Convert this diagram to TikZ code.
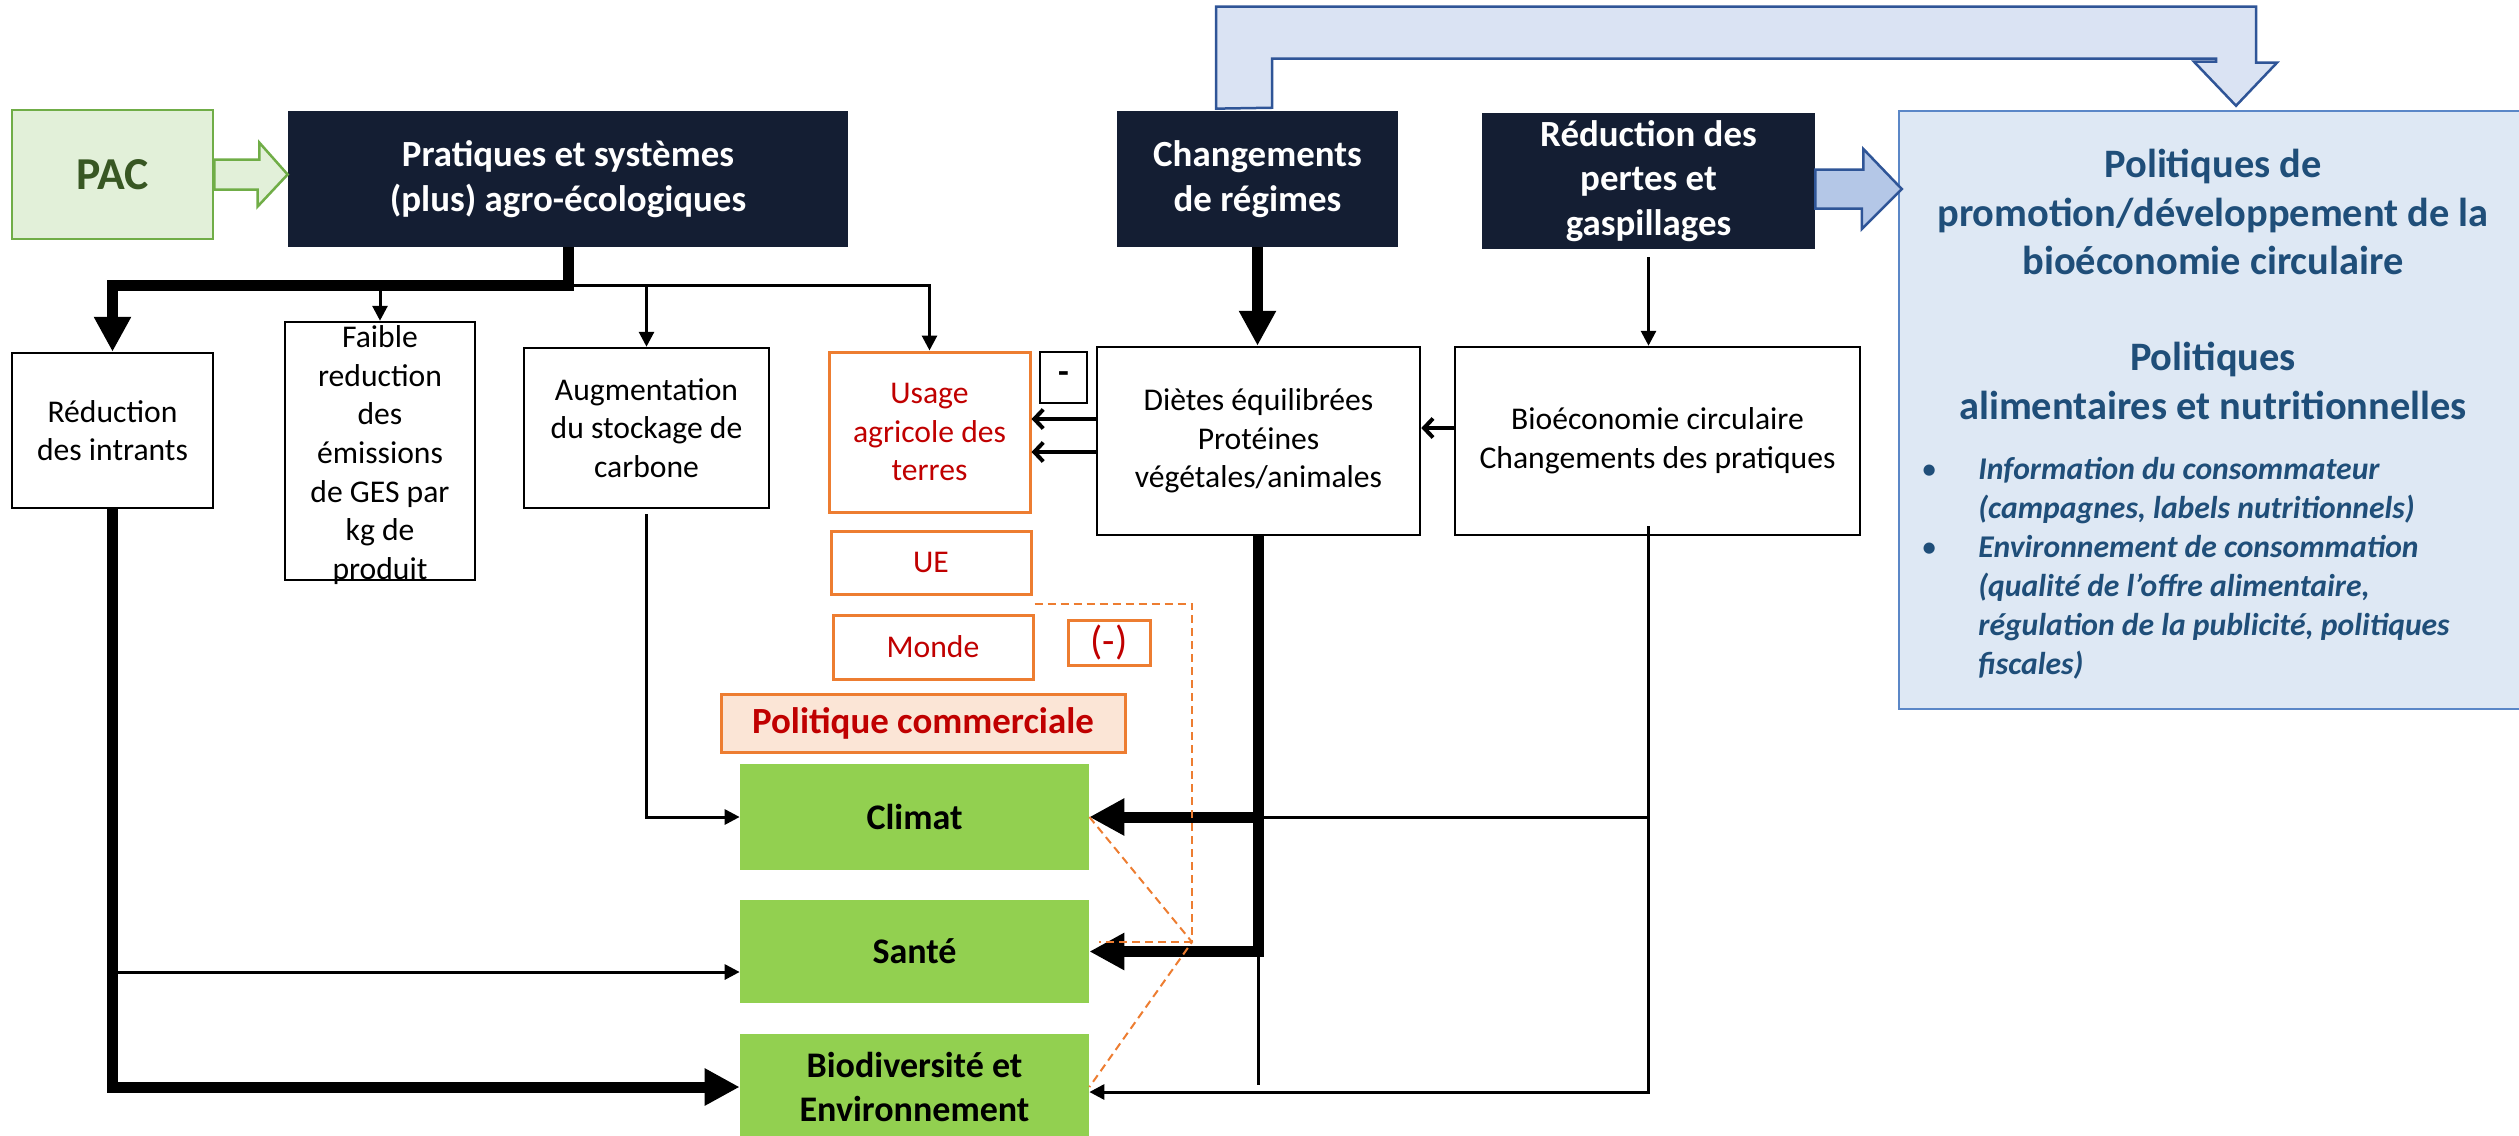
\documentclass[tikz,border=0pt]{standalone}
\usepackage{fontspec}
\setmainfont{Carlito}
\usepackage{tikz}
\usetikzlibrary{arrows.meta,calc}

\definecolor{navy}{HTML}{141E33}
\definecolor{pacfill}{HTML}{E2F0D9}
\definecolor{pacborder}{HTML}{70AD47}
\definecolor{pactext}{HTML}{385723}
\definecolor{polfill}{HTML}{DEE8F4}
\definecolor{polborder}{HTML}{5B87C7}
\definecolor{poltext}{HTML}{1F4E79}
\definecolor{arrowborder}{HTML}{2F5597}
\definecolor{arrowfill}{HTML}{B4C7E7}
\definecolor{bandfill}{HTML}{DAE3F3}
\definecolor{accorange}{HTML}{ED7D31}
\definecolor{darkred}{HTML}{C00000}
\definecolor{peach}{HTML}{FBE5D6}
\definecolor{leaf}{HTML}{92D050}

\begin{document}
\begin{tikzpicture}[x=0.2mm,y=-0.2mm,
        navybox/.style={fill=navy,text=white,inner sep=0pt,align=center,font=\bfseries\fontsize{21}{25.5}\selectfont},
        plainbox/.style={draw=black,line width=0.5mm,inner sep=0pt,align=center,font=\fontsize{18}{22}\selectfont},
        landbox/.style={draw=accorange,line width=0.6mm,inner sep=0pt,align=center,text=darkred,font=\fontsize{18}{22}\selectfont},
        outcome/.style={fill=leaf,minimum width=69.8mm,inner sep=0pt,align=center,font=\bfseries\fontsize{20.5}{25.5}\selectfont},
        poltitle/.style={text=poltext,inner sep=0pt,align=center,font=\bfseries\fontsize{23}{27.5}\selectfont},
        fat/.style={line width=2.2mm},
        fatarrow/.style={fat,-{Triangle[length=7mm,width=7mm]}},
        slim/.style={line width=0.6mm},
        slimarrow/.style={slim,-{Triangle[length=3mm,width=3mm]}},
        barb/.style={line width=0.8mm,-{Straight Barb[length=1.8mm,width=3.8mm]}},
        tradedash/.style={draw=accorange,line width=0.4mm,dash pattern=on 1.6mm off 1mm}
    ]
    \useasboundingbox (0,0) rectangle (2519,1136);

    \node[draw=pacborder,line width=0.5mm,fill=pacfill,minimum width=40.2mm,minimum height=25.8mm,text=pactext,font=\bfseries\fontsize{26}{30}\selectfont] (pac) at (112.5,174.5) {PAC};
    \node[navybox,minimum width=112mm,minimum height=27.2mm] (pratiques) at (568,179) {Pratiques et systèmes\\(plus) agro-écologiques};
    \node[navybox,minimum width=56.2mm,minimum height=27.2mm] (changements) at (1257.5,179) {Changements\\de régimes};
    \node[navybox,minimum width=66.6mm,minimum height=27.2mm] (pertes) at (1648.5,181) {Réduction des\\pertes et\\gaspillages};

    \node[draw=polborder,line width=0.5mm,fill=polfill,minimum width=126.2mm,minimum height=119.6mm] (politiques) at (2214.5,410) {};
    \node[poltitle] (promo) at (2213,212) {Politiques de\\promotion/développement de la\\bioéconomie circulaire};
    \node[poltitle] (alim) at (2213,381) {Politiques\\alimentaires et nutritionnelles};
    \node[text=poltext,inner sep=0pt,align=left,anchor=west,font=\bfseries\itshape\fontsize{18}{22.2}\selectfont] (mesures) at (1978,568)
        {\llap{\makebox[11.4mm][l]{\upshape\mdseries •}}Information du consommateur\\
         (campagnes, labels nutritionnels)\\
         \llap{\makebox[11.4mm][l]{\upshape\mdseries •}}Environnement de consommation\\
         (qualité de l’offre alimentaire,\\
         régulation de la publicité, politiques\\
         fiscales)};

    \node[plainbox,minimum width=40.2mm,minimum height=31mm] (intrants) at (112.5,430.5) {Réduction\\des intrants};
    \node[plainbox,minimum width=38mm,minimum height=51.6mm] (faible) at (380,451) {};
    \node[inner sep=0pt,align=center,font=\fontsize{18}{22}\selectfont] (faibletxt) at (380,455) {Faible\\reduction\\des\\émissions\\de GES par\\kg de\\produit};
    \node[plainbox,minimum width=49mm,minimum height=32mm] (stockage) at (646.5,428) {Augmentation\\du stockage de\\carbone};
    \node[landbox,minimum width=40.2mm,minimum height=32mm] (usage) at (929.5,432) {Usage\\agricole des\\terres};
    \node[plainbox,minimum width=9.4mm,minimum height=10.2mm,font=\bfseries\fontsize{20}{24}\selectfont] (moins) at (1063.5,377.5) {-};
    \node[plainbox,minimum width=64.6mm,minimum height=37.6mm] (dietes) at (1258.5,441) {Diètes équilibrées\\Protéines\\végétales/animales};
    \node[plainbox,minimum width=81mm,minimum height=37.6mm] (bioeco) at (1657.5,441) {Bioéconomie circulaire\\Changements des pratiques};

    \node[landbox,minimum width=40mm,minimum height=12.6mm] (ue) at (931,562.5) {UE};
    \node[landbox,minimum width=40mm,minimum height=12.8mm] (monde) at (933,647) {Monde};
    \node[landbox,minimum width=16.4mm,minimum height=9mm,font=\fontsize{23}{26}\selectfont] (signe) at (1109,642.5) {(-)};
    \node[landbox,fill=peach,minimum width=80.8mm,minimum height=11.6mm,font=\bfseries\fontsize{21}{24}\selectfont] (commerce) at (923,723) {Politique commerciale};

    \foreach \name/\y/\h/\txt in {climat/817/21.2mm/Climat, sante/951.5/20.6mm/Santé, biodiv/1087/21.2mm/{Biodiversité et\\Environnement}}
        {
        \node[outcome,minimum height=\h] (\name) at (914.5,\y) {\txt};
        }

    \draw[line width=0.5mm,draw=pacborder,fill=pacfill] ($(pac.east)+(0,-15)$) -- ++(45,0) -- ++(0,-17) -- (pratiques.west |- pac.east) -- ++(-30,32) -- ++(0,-17) -- ($(pac.east)+(0,15)$) -- cycle;
    \draw[line width=0.5mm,draw=arrowborder,fill=arrowfill] ($(pertes.east)+(0,-11.5)$) -- ++(48,0) -- ++(0,-20.5) -- ($(politiques.west |- pertes.east)+(4,8)$) -- ++(-40,40) -- ++(0,-20.5) -- ($(pertes.east)+(0,27.5)$) -- cycle;
    \draw[line width=0.5mm,draw=arrowborder,fill=bandfill] ($(changements.north)+(-41.5,-2)$) -- ++(0,-102) -- ++(1040,0) -- ++(0,56) -- ++(21,0) -- ($(politiques.north)+(21.5,-4)$) -- ++(-42,-44) -- ++(22,0) -- ++(0,-3) -- ++(-944,0) -- ++(0,49) -- cycle;

    \coordinate (bus) at ($(pratiques.south)+(0,38)$);
    \draw[slimarrow] (bus) -| (usage.north);
    \draw[slimarrow] (faible.north |- bus) -- (faible.north);
    \draw[slimarrow] (stockage.north |- bus) -- (stockage.north);
    \draw[fatarrow] (pratiques.south) -- (bus) -| (intrants.north);

    \draw[fatarrow] (changements.south) -- (changements.south |- dietes.north);
    \draw[slimarrow] ($(pertes.south)+(0,8)$) -- (pertes.south |- bioeco.north);
    \draw[barb] (dietes.west |- 0,419) -- (usage.east |- 0,419);
    \draw[barb] (dietes.west |- 0,452) -- (usage.east |- 0,452);
    \draw[barb] (bioeco.west |- 0,428) -- (dietes.east |- 0,428);

    \coordinate (bout) at ($(dietes.south |- sante.east)+(0,133)$);
    \draw[slim] (dietes.south |- sante.east) -- (bout);
    \draw[slimarrow] ($(pertes.south |- bioeco.south)+(0,-10)$) |- ($(biodiv.east)+(0,5)$);
    \draw[slim] (pertes.south |- climat.east) -- (dietes.south |- climat.east);
    \draw[fatarrow] (dietes.south) |- (sante.east);
    \draw[fatarrow] (dietes.south |- climat.east) -- (climat.east);

    \draw[slimarrow] ($(stockage.south)+(0,5)$) |- (climat.west);
    \draw[fatarrow] (intrants.south) |- (biodiv.west);
    \draw[slimarrow] (intrants.south |- 0,972) -- (sante.west |- 0,972);

    \coordinate (pivot) at (1192,942);
    \draw[tradedash] ($(monde.north east)+(0,-10)$) -| (pivot);
    \draw[tradedash] (climat.east) -- (pivot) -- (biodiv.east);
    \draw[tradedash] (pivot) -- ++(-93,0);

\end{tikzpicture}
\end{document}
